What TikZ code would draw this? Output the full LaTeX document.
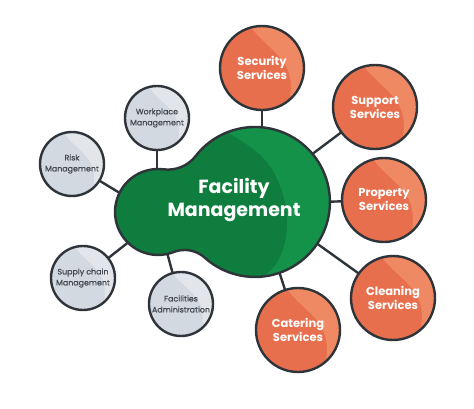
\documentclass[tikz,border=0pt]{standalone}
\usepackage{fontspec}
\setmainfont{Poppins}
\newfontfamily\popmed[FakeBold=0.35]{Poppins}
\pgfdeclarelayer{bg}
\pgfsetlayers{bg,main}
\definecolor{lineC}{HTML}{2E3439}
\definecolor{oBase}{HTML}{E86F4D}
\definecolor{oLight}{HTML}{EF8963}
\definecolor{gBase}{HTML}{D3D9E0}
\definecolor{gLight}{HTML}{E2E6EB}
\definecolor{grBase}{HTML}{0E7D3D}
\definecolor{grLight}{HTML}{14924A}
\definecolor{gText}{HTML}{41474D}
\newcommand\crescentpath{(-0.4,-1.2) .. controls (-0.1,-0.6) and (0.5,-0.4) .. (0.65,0.15) .. controls (0.75,0.55) and (0.65,0.85) .. (0.5,1.2) -- (1.3,1.3) -- (1.3,-1.3) -- cycle}
\newcommand\blobpath{(173.7,252.0) arc[start angle=-68.6, end angle=-277.3, radius=43pt] arc[start angle=-97.4, end angle=-37.7, radius=35pt] arc[start angle=-217.8, end angle=-492, radius=75pt] arc[start angle=47.9, end angle=111.4, radius=30pt] -- cycle}
% #1 kind (o/g), #2 name, #3 x, #4 y, #5 radius, #6 text
\newcommand\bub[6]{%
  \node[#1bub] (#2) at (#3,#4) {};
  \begin{scope}
    \clip (#2.center) circle[radius=#5pt];
    \fill[#1Light, shift={(#3,#4)}, scale=#5] \crescentpath;
  \end{scope}
  \draw[outline] (#2.center) circle[radius=#5pt];
  \node[#1txt] (#2-t) at (#2.center) {#6};
}
\tikzset{
  outline/.style={draw=lineC, line width=2.4pt},
  conn/.style={draw=lineC, line width=2.4pt},
  obub/.style={circle, inner sep=0pt, minimum size=84pt, fill=oBase},
  gbub/.style={circle, inner sep=0pt, minimum size=64pt, fill=gBase},
  otxt/.style={align=center, text=white, font=\bfseries\fontsize{11.5}{14}\selectfont},
  gtxt/.style={align=center, text=gText, font=\popmed\fontsize{7.9}{11}\selectfont},
}
\begin{document}
\begin{tikzpicture}[x=1pt,y=-1pt]
\useasboundingbox (0,0) rectangle (474,409);
% blob
\fill[grBase] \blobpath;
\begin{scope}
  \clip \blobpath;
  \fill[grLight, shift={(255,202)}, scale=75] (-0.6,-1.1) .. controls (-0.3,-0.85) and (0.05,-0.75) .. (0.25,-0.4) .. controls (0.45,-0.05) and (0.5,0.45) .. (0.3,0.8) .. controls (0.2,0.95) and (0.05,1.05) .. (-0.15,1.2) -- (1.3,1.3) -- (1.3,-1.3) -- cycle;
\end{scope}
\draw[outline] \blobpath;
\node[font=\bfseries\fontsize{19}{23}\selectfont, text=white, align=center] (fm) at (234,200) {Facility\\Management};
% orange bubbles
\bub{o}{sec}{262}{68}{42}{Security\\Services}
\bub{o}{sup}{375}{107}{42}{Support\\Services}
\bub{o}{pro}{384}{200}{42}{Property\\Services}
\bub{o}{cle}{393}{298}{42}{Cleaning\\Services}
\bub{o}{cat}{298}{330}{42}{Catering\\Services}
% gray bubbles
\bub{g}{wor}{157}{118}{32}{Workplace\\Management}
\bub{g}{ris}{72}{164}{32}{Risk\\Management}
\bub{g}{sch}{83}{278}{32}{Supply chain\\Management}
\bub{g}{fad}{181}{304}{32}{Facilities\\Administration}
% junctions inside blob
\coordinate (jSec) at (262,140);
\coordinate (jSup) at (303,161);
\coordinate (jPro) at (320,202);
\coordinate (jCle) at (305,235);
\coordinate (jCat) at (277,265);
\coordinate (jWor) at (157,185);
\coordinate (jRis) at (128,198);
\coordinate (jSch) at (135,237);
\coordinate (jFad) at (165,245);
\begin{pgfonlayer}{bg}
\fill[white] (0,0) rectangle (474,409);
\draw[conn] (sec) -- (jSec);
\draw[conn] (sup) -- (jSup);
\draw[conn] (pro) -- (jPro);
\draw[conn] (cle) -- (jCle);
\draw[conn] (cat) -- (jCat);
\draw[conn] (wor) -- (jWor);
\draw[conn] (ris) -- (jRis);
\draw[conn] (sch) -- (jSch);
\draw[conn] (fad) -- (jFad);
\end{pgfonlayer}
\end{tikzpicture}
\end{document}
